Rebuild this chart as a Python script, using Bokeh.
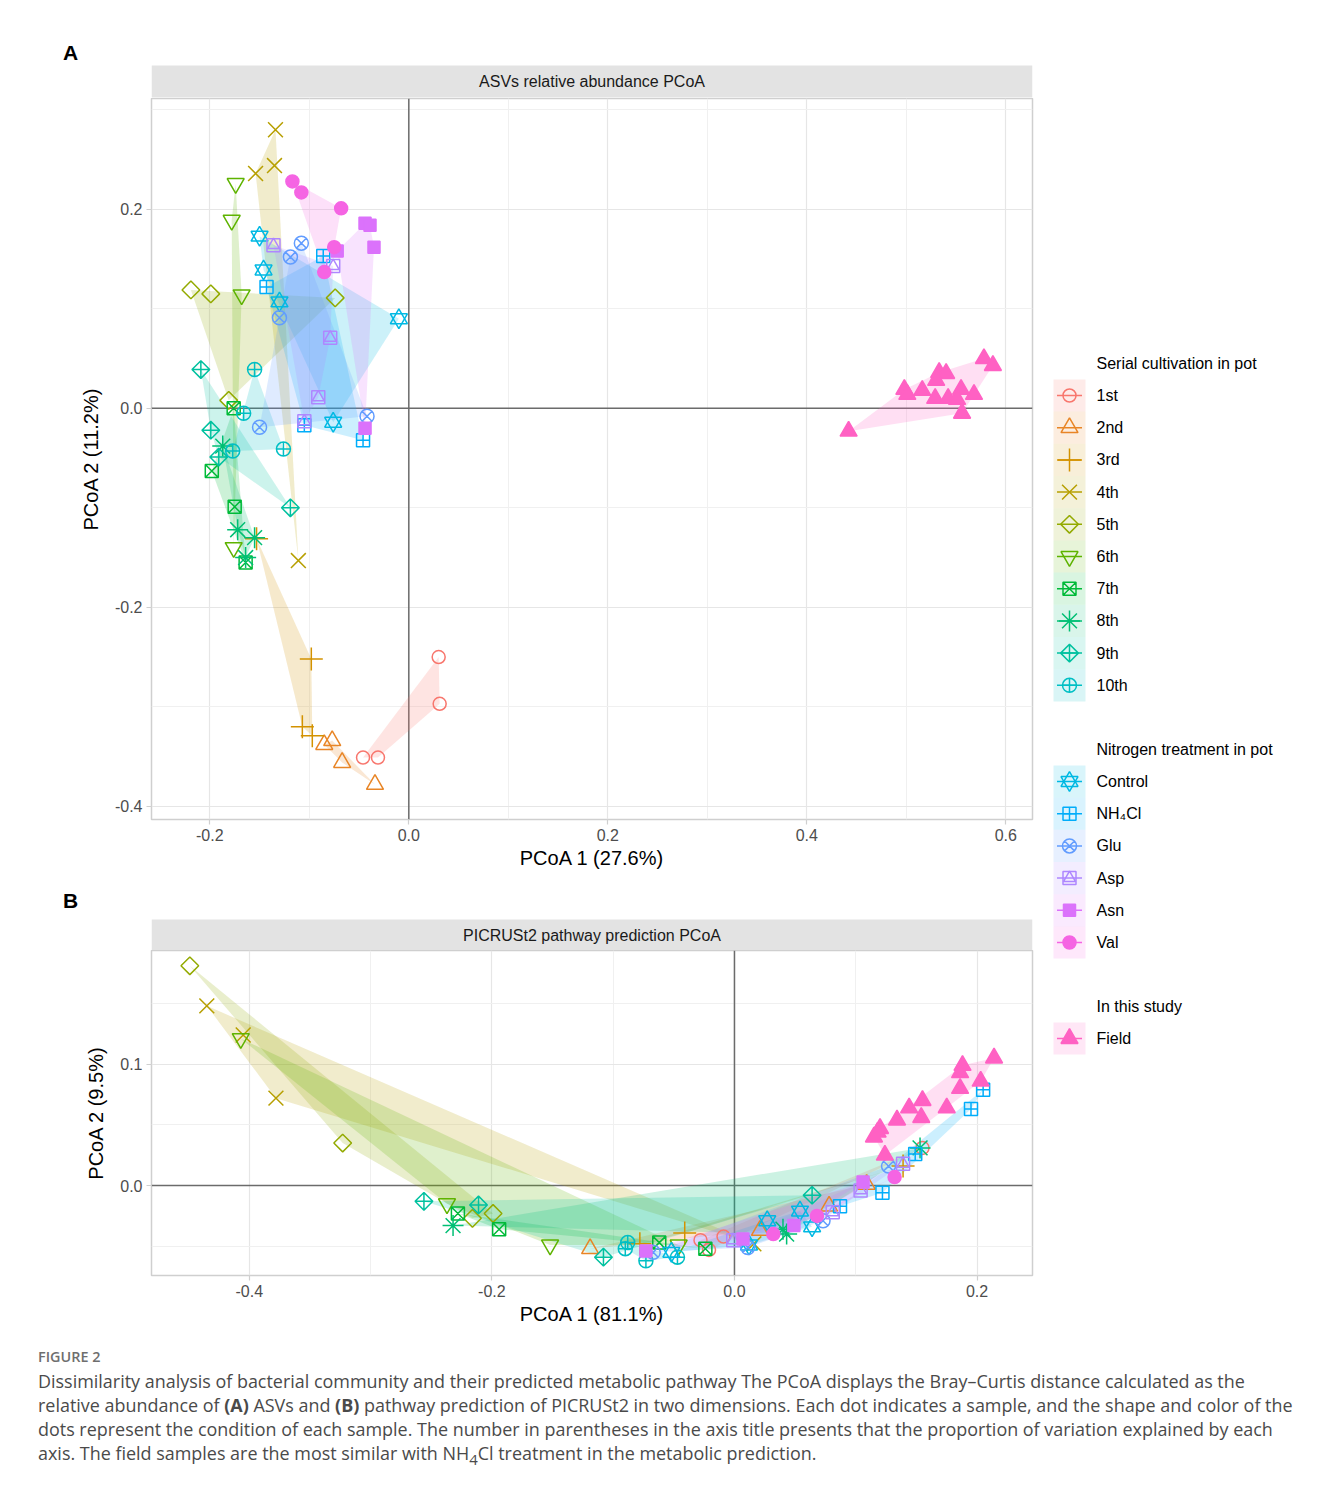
import math
import numpy as np
from bokeh.plotting import figure
from bokeh.models import Range1d, FixedTicker, Span, Div
from bokeh.layouts import row, column
from bokeh.embed import file_html
from bokeh.resources import INLINE
from bokeh.core.properties import value

# ------------------------------------------------------------------ categories
CULTIVATION = ["1st", "2nd", "3rd", "4th", "5th", "6th", "7th", "8th", "9th", "10th"]
TREATMENT = ["Control", "NH4Cl", "Glu", "Asp", "Asn", "Val"]
TREATMENT_LABELS = ["Control", "NH\u2084Cl", "Glu", "Asp", "Asn", "Val"]
STUDY = ["Field"]
GROUPS = CULTIVATION + TREATMENT + STUDY

LEGEND_TITLES = ["Serial cultivation in pot", "Nitrogen treatment in pot", "In this study"]

# ------------------------------------------------------------------ panel A (ASVs PCoA)
A_TITLE = "ASVs relative abundance PCoA"
A_XLABEL = "PCoA 1 (27.6%)"
A_YLABEL = "PCoA 2 (11.2%)"
A_XTICKS = [-0.2, 0.0, 0.2, 0.4, 0.6]
A_XTICK_LABELS = ["-0.2", "0.0", "0.2", "0.4", "0.6"]
A_XMINOR = [-0.1, 0.1, 0.3, 0.5]
A_YTICKS = [-0.4, -0.2, 0.0, 0.2]
A_YTICK_LABELS = ["-0.4", "-0.2", "0.0", "0.2"]
A_YMINOR = [-0.3, -0.1, 0.1, 0.3]
A_XLIM = (-0.2586, 0.6268)
A_YLIM = (-0.4133, 0.3114)

A_group = (["1st"] * 4 + ["2nd"] * 4 + ["3rd"] * 4 + ["4th"] * 4 + ["5th"] * 4 +
           ["6th"] * 4 + ["7th"] * 4 + ["8th"] * 4 + ["9th"] * 4 + ["10th"] * 4 +
           ["Control"] * 5 + ["NH4Cl"] * 4 + ["Glu"] * 5 + ["Asp"] * 5 + ["Asn"] * 5 +
           ["Val"] * 5 + ["Field"] * 15)
A_pc1 = [0.030, 0.031, -0.046, -0.031,            # 1st
         -0.077, -0.085, -0.067, -0.034,          # 2nd
         -0.153, -0.098, -0.097, -0.107,          # 3rd
         -0.134, -0.135, -0.154, -0.111,          # 4th
         -0.219, -0.199, -0.074, -0.181,          # 5th
         -0.174, -0.178, -0.168, -0.176,          # 6th
         -0.176, -0.198, -0.175, -0.164,          # 7th
         -0.187, -0.172, -0.155, -0.164,          # 8th
         -0.209, -0.199, -0.191, -0.119,          # 9th
         -0.155, -0.166, -0.177, -0.126,          # 10th
         -0.150, -0.146, -0.130, -0.010, -0.076,  # Control
         -0.086, -0.143, -0.105, -0.046,          # NH4Cl
         -0.108, -0.119, -0.130, -0.150, -0.042,  # Glu
         -0.136, -0.076, -0.079, -0.091, -0.105,  # Asp
         -0.044, -0.039, -0.035, -0.072, -0.044,  # Asn
         -0.117, -0.108, -0.068, -0.075, -0.085,  # Val
         0.578, 0.587, 0.533, 0.540, 0.530, 0.498, 0.501, 0.516,
         0.555, 0.568, 0.529, 0.542, 0.551, 0.556, 0.442]  # Field
A_pc2 = [-0.250, -0.297, -0.351, -0.351,          # 1st
         -0.334, -0.338, -0.356, -0.378,          # 2nd
         -0.131, -0.252, -0.329, -0.320,          # 3rd
         0.280, 0.244, 0.236, -0.153,             # 4th
         0.119, 0.115, 0.111, 0.008,              # 5th
         0.226, 0.189, 0.114, -0.140,             # 6th
         0.000, -0.063, -0.099, -0.155,           # 7th
         -0.038, -0.122, -0.130, -0.150,          # 8th
         0.039, -0.022, -0.049, -0.100,           # 9th
         0.039, -0.005, -0.043, -0.041,           # 10th
         0.173, 0.139, 0.107, 0.090, -0.014,      # Control
         0.153, 0.122, -0.017, -0.032,            # NH4Cl
         0.166, 0.152, 0.091, -0.019, -0.008,     # Glu
         0.164, 0.143, 0.071, 0.011, -0.013,      # Asp
         0.186, 0.184, 0.162, 0.158, -0.020,      # Asn
         0.228, 0.217, 0.201, 0.162, 0.137,       # Val
         0.050, 0.043, 0.036, 0.035, 0.028, 0.019, 0.014, 0.018,
         0.019, 0.014, 0.010, 0.010, 0.009, -0.005, -0.023]  # Field

# ------------------------------------------------------------------ panel B (PICRUSt2 PCoA)
B_TITLE = "PICRUSt2 pathway prediction PCoA"
B_XLABEL = "PCoA 1 (81.1%)"
B_YLABEL = "PCoA 2 (9.5%)"
B_XTICKS = [-0.4, -0.2, 0.0, 0.2]
B_XTICK_LABELS = ["-0.4", "-0.2", "0.0", "0.2"]
B_XMINOR = [-0.3, -0.1, 0.1]
B_YTICKS = [0.0, 0.1]
B_YTICK_LABELS = ["0.0", "0.1"]
B_YMINOR = [-0.05, 0.05, 0.15]
B_XLIM = (-0.4806, 0.2457)
B_YLIM = (-0.0741, 0.1936)

B_group = (["1st"] * 4 + ["2nd"] * 4 + ["3rd"] * 3 + ["4th"] * 4 + ["5th"] * 4 +
           ["6th"] * 4 + ["7th"] * 4 + ["8th"] * 4 + ["9th"] * 4 + ["10th"] * 4 +
           ["Control"] * 5 + ["NH4Cl"] * 5 + ["Glu"] * 4 + ["Asp"] * 4 + ["Asn"] * 4 +
           ["Val"] * 3 + ["Field"] * 14)
B_pc1 = [-0.028, -0.021, -0.009, 0.155,           # 1st
         -0.119, 0.021, 0.078, 0.109,             # 2nd
         -0.078, -0.041, 0.139,                   # 3rd
         -0.435, -0.405, -0.378, 0.016,           # 4th
         -0.449, -0.323, -0.216, -0.199,          # 5th
         -0.407, -0.237, -0.152, -0.046,          # 6th
         -0.228, -0.194, -0.062, -0.024,          # 7th
         -0.232, 0.040, 0.043, 0.153,             # 8th
         -0.256, -0.211, -0.108, 0.064,           # 9th
         -0.088, -0.073, -0.047, -0.090,          # 10th
         -0.052, 0.012, 0.027, 0.054, 0.064,      # Control
         0.205, 0.195, 0.149, 0.122, 0.087,       # NH4Cl
         0.011, -0.067, 0.073, 0.127,             # Glu
         -0.001, 0.081, 0.139, 0.104,             # Asp
         -0.073, 0.007, 0.049, 0.106,             # Asn
         0.032, 0.068, 0.132,                     # Val
         0.214, 0.188, 0.186, 0.203, 0.186, 0.155, 0.144,
         0.175, 0.134, 0.154, 0.120, 0.115, 0.124, 0.118]  # Field
B_pc2 = [-0.045, -0.053, -0.042, 0.031,           # 1st
         -0.052, -0.037, -0.017, 0.001,           # 2nd
         -0.048, -0.039, 0.016,                   # 3rd
         0.148, 0.124, 0.072, -0.048,             # 4th
         0.181, 0.035, -0.027, -0.023,            # 5th
         0.121, -0.015, -0.049, -0.049,           # 6th
         -0.023, -0.036, -0.047, -0.052,          # 7th
         -0.033, -0.036, -0.040, 0.031,           # 8th
         -0.013, -0.016, -0.059, -0.008,          # 9th
         -0.047, -0.062, -0.059, -0.052,          # 10th
         -0.055, -0.049, -0.029, -0.021, -0.034,  # Control
         0.079, 0.063, 0.026, -0.006, -0.017,     # NH4Cl
         -0.051, -0.055, -0.029, 0.016,           # Glu
         -0.045, -0.022, 0.018, -0.004,           # Asp
         -0.054, -0.044, -0.033, 0.003,           # Asn
         -0.040, -0.025, 0.007,                   # Val
         0.105, 0.099, 0.093, 0.086, 0.080, 0.070, 0.064,
         0.064, 0.054, 0.056, 0.047, 0.040, 0.025, 0.044]  # Field

CAPTION_HEAD = "FIGURE 2"
CAPTION_LINES = [
    "Dissimilarity analysis of bacterial community and their predicted metabolic pathway The PCoA displays the Bray\u2013Curtis distance calculated as the",
    "relative abundance of <b>(A)</b> ASVs and <b>(B)</b> pathway prediction of PICRUSt2 in two dimensions. Each dot indicates a sample, and the shape and color of the",
    "dots represent the condition of each sample. The number in parentheses in the axis title presents that the proportion of variation explained by each",
    "axis. The field samples are the most similar with NH<sub>4</sub>Cl treatment in the metabolic prediction.",
]

# ------------------------------------------------------------------ styles
FONT = "Liberation Sans"


def hcl_hex(h, c, l):
    """grDevices::hcl -> hex (polar CIE-Luv, D65)."""
    wx, wy, wz = 95.047, 100.000, 108.883
    hr = math.radians(h)
    U, V = c * math.cos(hr), c * math.sin(hr)
    Y = wy * (((l + 16) / 116) ** 3 if l > 7.999592 else l / 903.3)
    t = wx + 15 * wy + 3 * wz
    un, vn = 4 * wx / t, 9 * wy / t
    u = U / (13 * l) + un
    v = V / (13 * l) + vn
    X = 9.0 * Y * u / (4 * v)
    Z = -X / 3 - 5 * Y + 3 * Y / v

    def g(x):
        x = 1.055 * x ** (1 / 2.4) - 0.055 if x > 0.00304 else 12.92 * x
        return int(round(255 * min(1.0, max(0.0, x))))
    r = g((3.240479 * X - 1.537150 * Y - 0.498535 * Z) / wy)
    gg = g((-0.969256 * X + 1.875992 * Y + 0.041556 * Z) / wy)
    b = g((0.055648 * X - 0.204043 * Y + 1.057311 * Z) / wy)
    return "#%02X%02X%02X" % (r, gg, b)


# ggplot hue palette with 18 levels (17 of them used)
COLORS = {grp: hcl_hex((15 + i * 20.0) % 360, 100, 65) for i, grp in enumerate(GROUPS)}

Q = math.pi / 4
# (marker, size, angle, filled)
MARKERS = {
    "1st": [("circle", 13, 0, False)],
    "2nd": [("triangle", 17, 0, False)],
    "3rd": [("cross", 23, 0, False)],
    "4th": [("x", 21, 0, False)],
    "5th": [("square", 12.5, Q, False)],
    "6th": [("inverted_triangle", 17, 0, False)],
    "7th": [("square_x", 13, 0, False)],
    "8th": [("asterisk", 21, 0, False)],
    "9th": [("square_x", 12.5, Q, False)],
    "10th": [("circle_cross", 14, 0, False)],
    "Control": [("triangle", 17, 0, False), ("inverted_triangle", 17, 0, False)],
    "NH4Cl": [("square_cross", 13, 0, False)],
    "Glu": [("circle_x", 14, 0, False)],
    "Asp": [("square", 13, 0, False), ("triangle", 12, 0, False)],
    "Asn": [("square", 12, 0, True)],
    "Val": [("circle", 13, 0, True)],
    "Field": [("triangle", 17, 0, True)],
}
LW = 1.5


def hull(pts):
    pts = sorted(set(pts))
    if len(pts) < 3:
        return pts

    def cross(o, a, b):
        return (a[0] - o[0]) * (b[1] - o[1]) - (a[1] - o[1]) * (b[0] - o[0])
    lower, upper = [], []
    for p in pts:
        while len(lower) >= 2 and cross(lower[-2], lower[-1], p) <= 0:
            lower.pop()
        lower.append(p)
    for p in reversed(pts):
        while len(upper) >= 2 and cross(upper[-2], upper[-1], p) <= 0:
            upper.pop()
        upper.append(p)
    return lower[:-1] + upper[:-1]


def draw_markers(p, grp, xs, ys):
    col = COLORS[grp]
    for (m, s, a, filled) in MARKERS[grp]:
        p.scatter(x=xs, y=ys, marker=m, size=s, angle=a, line_color=col,
                  line_width=LW, fill_color=col if filled else None,
                  fill_alpha=1.0)


LEFT_W = 1043
FRAME_L = 151
FRAME_W = 881
FRAME_R = LEFT_W - FRAME_L - FRAME_W


def pcoa_panel(groups, xs, ys, xlim, ylim, xt, xtl, xm, yt, ytl, ym, xlabel, ylabel, height, bottom):
    p = figure(width=LEFT_W, height=height, x_range=Range1d(*xlim), y_range=Range1d(*ylim),
               output_backend="svg", toolbar_location=None,
               min_border_left=FRAME_L, min_border_right=FRAME_R,
               min_border_top=0, min_border_bottom=bottom)
    p.background_fill_color = "white"
    p.border_fill_color = "white"
    p.outline_line_color = "#cfcfcf"
    p.outline_line_width = 1.5
    p.xaxis.ticker = FixedTicker(ticks=xt, minor_ticks=xm)
    p.yaxis.ticker = FixedTicker(ticks=yt, minor_ticks=ym)
    p.xaxis.major_label_overrides = {t: l for t, l in zip(xt, xtl)}
    p.yaxis.major_label_overrides = {t: l for t, l in zip(yt, ytl)}
    for ax in (p.xaxis[0], p.yaxis[0]):
        ax.axis_line_color = None
        ax.major_tick_line_color = "#cfcfcf"
        ax.major_tick_line_width = 1.2
        ax.major_tick_out = 5
        ax.major_tick_in = 0
        ax.minor_tick_line_color = None
        ax.major_label_text_font = FONT
        ax.major_label_text_font_size = "16px"
        ax.major_label_text_color = "#4d4d4d"
        ax.major_label_standoff = 4
        ax.axis_label_text_font = FONT
        ax.axis_label_text_font_size = "20px"
        ax.axis_label_text_font_style = "normal"
        ax.axis_label_text_color = "#000000"
    p.xaxis.axis_label = xlabel
    p.yaxis.axis_label = ylabel
    p.xaxis.axis_label_standoff = 3
    p.yaxis.axis_label_standoff = 10
    for gr in (p.xgrid[0], p.ygrid[0]):
        gr.grid_line_color = "#e6e6e6"
        gr.grid_line_width = 1.2
        gr.minor_grid_line_color = "#f0f0f0"
        gr.minor_grid_line_width = 1.0
    p.add_layout(Span(location=0, dimension="height", line_color="#6b6b6b", line_width=1.5, level="underlay"))
    p.add_layout(Span(location=0, dimension="width", line_color="#6b6b6b", line_width=1.5, level="underlay"))

    groups = list(groups)
    for grp in GROUPS:
        idx = [i for i, g in enumerate(groups) if g == grp]
        pts = [(xs[i], ys[i]) for i in idx]
        hp = hull(pts)
        if len(hp) >= 3:
            p.patch([q[0] for q in hp], [q[1] for q in hp], fill_color=COLORS[grp],
                    fill_alpha=0.2, line_color=None)
    for grp in GROUPS:
        idx = [i for i, g in enumerate(groups) if g == grp]
        draw_markers(p, grp, [xs[i] for i in idx], [ys[i] for i in idx])
    return p


def header(height, letter, letter_y, strip_top, strip_bottom, title):
    # frame is aligned with the panel frame below; x in pixels from the frame's left edge
    p = figure(width=LEFT_W, height=height, x_range=Range1d(0, FRAME_W), y_range=Range1d(height, 0),
               output_backend="svg", toolbar_location=None,
               min_border_left=FRAME_L, min_border_right=FRAME_R, min_border_top=0, min_border_bottom=0,
               x_axis_location=None, y_axis_location=None)
    p.grid.visible = False
    p.outline_line_color = None
    p.background_fill_color = "white"
    p.border_fill_color = "white"
    p.quad(left=[0], right=[FRAME_W], top=[strip_top], bottom=[strip_bottom],
           fill_color="#e3e3e3", line_color=None)
    p.text(x=[FRAME_W / 2], y=[(strip_top + strip_bottom) / 2], text=[title],
           text_font=value(FONT), text_font_size="16px", text_color="#1a1a1a",
           text_align="center", text_baseline="middle")
    p.text(x=[70 - FRAME_L], y=[letter_y], text=[letter], text_font=value(FONT), text_font_size="21px",
           text_font_style="bold", text_color="#000000", text_align="center",
           text_baseline="middle", level="overlay")
    return p


HA, HFA, HB, HFB = 98, 782, 70, 380

hA = header(HA, "A", 52, 65, 97, A_TITLE)
pA = pcoa_panel(A_group, A_pc1, A_pc2, A_XLIM, A_YLIM, A_XTICKS, A_XTICK_LABELS, A_XMINOR,
                A_YTICKS, A_YTICK_LABELS, A_YMINOR, A_XLABEL, A_YLABEL, HFA, HFA - 721)
hB = header(HB, "B", 20, 39, 70, B_TITLE)
pB = pcoa_panel(B_group, B_pc1, B_pc2, B_XLIM, B_YLIM, B_XTICKS, B_XTICK_LABELS, B_XMINOR,
                B_YTICKS, B_YTICK_LABELS, B_YMINOR, B_XLABEL, B_YLABEL, HFB, HFB - 325)

# ------------------------------------------------------------------ legend column
LG_W = 1330 - LEFT_W
LG_H = HA + HFA + HB + HFB
lg = figure(width=LG_W, height=LG_H, x_range=Range1d(0, LG_W), y_range=Range1d(LG_H, 0),
            output_backend="svg", toolbar_location=None, min_border=0,
            x_axis_location=None, y_axis_location=None)
lg.grid.visible = False
lg.outline_line_color = None
lg.background_fill_color = "white"
lg.border_fill_color = "white"

KEY_X0, KEY_W, LABEL_X = 10, 32, 53
STEP = 32.2
sections = [(LEGEND_TITLES[0], CULTIVATION, CULTIVATION, 363),
            (LEGEND_TITLES[1], TREATMENT, TREATMENT_LABELS, 749),
            (LEGEND_TITLES[2], STUDY, STUDY, 1006)]
for title, grps, labels, ty in sections:
    lg.text(x=[LABEL_X], y=[ty], text=[title], text_font=value(FONT), text_font_size="16px",
            text_color="#000000", text_baseline="middle")
    for k, (grp, lab) in enumerate(zip(grps, labels)):
        cy = ty + 32 + k * STEP
        col = COLORS[grp]
        lg.quad(left=[KEY_X0], right=[KEY_X0 + KEY_W], top=[cy - STEP / 2], bottom=[cy + STEP / 2],
                fill_color=col, fill_alpha=0.15, line_color=None)
        lg.segment(x0=[KEY_X0 + 3.5], x1=[KEY_X0 + KEY_W - 3.5], y0=[cy], y1=[cy],
                   line_color=col, line_width=LW)
        draw_markers(lg, grp, [KEY_X0 + KEY_W / 2], [cy])
        lg.text(x=[LABEL_X], y=[cy], text=[lab], text_font=value(FONT), text_font_size="16px",
                text_color="#000000", text_baseline="middle")

# ------------------------------------------------------------------ caption
cap_html = (
    '<div style="font-family: \'Open Sans\', sans-serif; color:#4a4a4a; padding-left:38px; '
    'padding-top:15px; white-space:nowrap;">'
    '<div style="font-size:14.4px; font-weight:600; color:#6e6e6e; line-height:24px;">%s</div>'
    '<div style="font-size:17.95px; line-height:24px;">%s</div></div>'
    % (CAPTION_HEAD, "<br>".join(CAPTION_LINES))
)
cap = Div(text=cap_html, width=1330, height=150, margin=0)

layout = column(row(column(hA, pA, hB, pB, spacing=0), lg, spacing=0), cap, spacing=0)

with open("out.html", "w") as f:
    f.write(file_html(layout, INLINE, "Figure 2"))
